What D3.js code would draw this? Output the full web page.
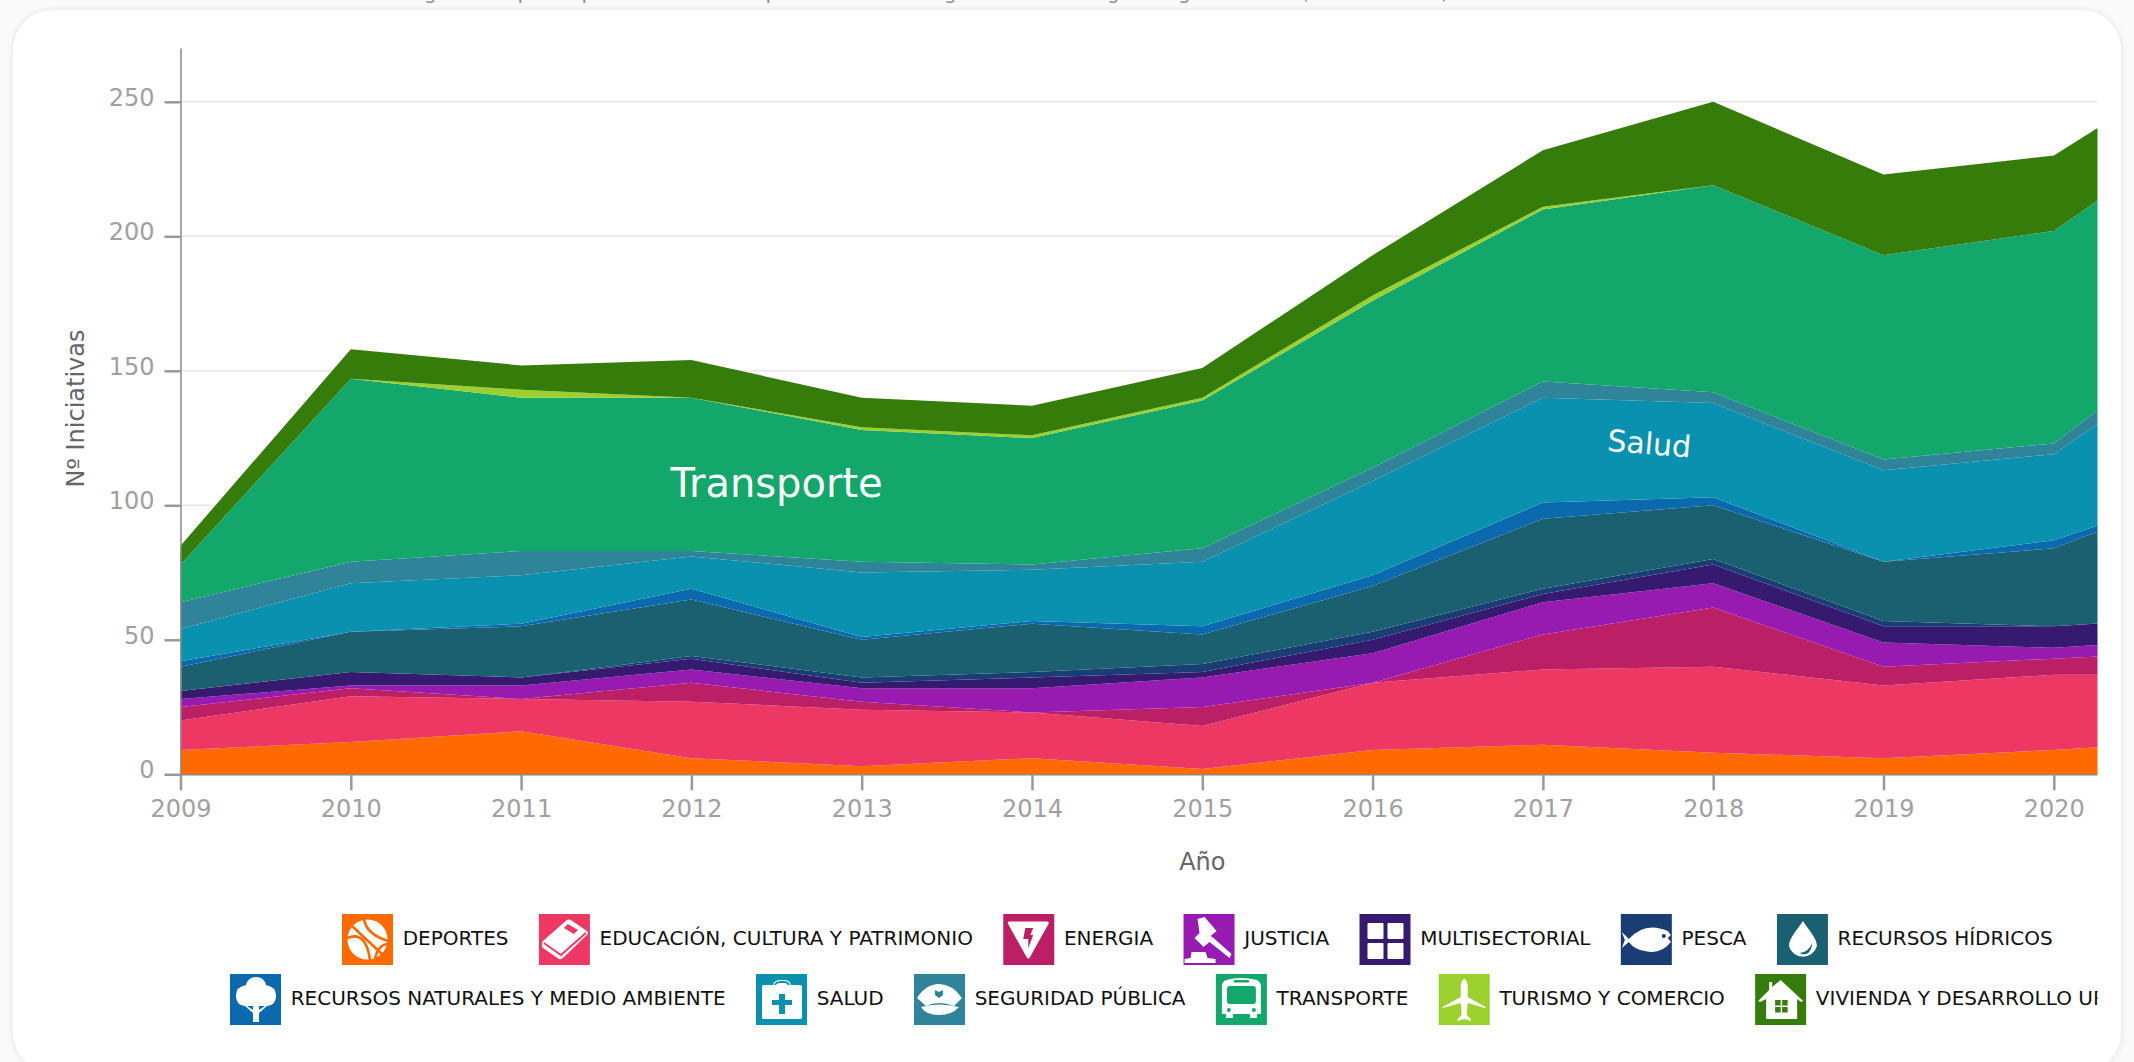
<!DOCTYPE html>
<html>
<head>
<meta charset="utf-8">
<script src="https://cdn.jsdelivr.net/npm/d3@7"></script>
<style>
  html, body { margin: 0; padding: 0; background: #fafafa; overflow: hidden; }
  text { font-family: "DejaVu Sans", sans-serif; }
  .axis text { fill: #a0a0a0; font-size: 24px; }
  .axis .tick line { stroke: #999; stroke-width: 2.5px; }
  .axis path { stroke: #888; stroke-width: 1.5px; }
  .axis-label { fill: #666; font-size: 24px; }
</style>
</head>
<body>
<div id="chart"></div>
<script>
var width = 2134;
var height = 1062;

var years = [2009, 2010, 2011, 2012, 2013, 2014, 2015, 2016, 2017, 2018, 2019, 2020, 2021];
var xTicks = [2009, 2010, 2011, 2012, 2013, 2014, 2015, 2016, 2017, 2018, 2019, 2020];
var yTicks = [0, 50, 100, 150, 200, 250];

var deportes = [9, 12, 16, 6, 3, 6, 2, 9, 11, 8, 6, 9, 13];
var educacion = [11, 17, 12, 21, 21, 17, 16, 25, 28, 32, 27, 28, 24];
var energia = [5, 3, 0, 7, 3, 0, 7, 0, 13, 22, 7, 6, 9];
var justicia = [3, 1, 5, 5, 5, 9, 11, 11, 12, 9, 9, 4, 5];
var multisectorial = [3, 5, 3, 4, 2, 4, 2, 5, 3, 7, 6, 8, 8];
var pesca = [0, 0, 0, 1, 2, 2, 3, 3, 2, 2, 2, 0, 0];
var hidricos = [9, 15, 19, 21, 14, 18, 11, 17, 26, 20, 22, 29, 49];
var naturales = [2, 0, 1, 4, 1, 1, 3, 4, 6, 3, 0, 3, 0];
var salud = [12, 18, 18, 12, 24, 19, 24, 35, 39, 35, 34, 32, 55];
var seguridad = [10, 8, 9, 2, 4, 2, 5, 5, 6, 4, 4, 4, 8];
var transporte = [14, 68, 57, 57, 49, 47, 55, 62, 64, 77, 76, 79, 75];
var turismo = [0, 0, 3, 0, 1, 1, 1, 2, 1, 0, 0, 0, 0];
var vivienda = [7, 11, 9, 14, 11, 11, 11, 15, 21, 31, 30, 28, 24];

var seriesValues = [deportes, educacion, energia, justicia, multisectorial, pesca, hidricos,
                    naturales, salud, seguridad, transporte, turismo, vivienda];
var seriesKeys = ["deportes", "educacion", "energia", "justicia", "multisectorial", "pesca", "hidricos",
                  "naturales", "salud", "seguridad", "transporte", "turismo", "vivienda"];
var seriesNames = ["DEPORTES", "EDUCACIÓN, CULTURA Y PATRIMONIO", "ENERGIA", "JUSTICIA", "MULTISECTORIAL",
                   "PESCA", "RECURSOS HÍDRICOS", "RECURSOS NATURALES Y MEDIO AMBIENTE", "SALUD",
                   "SEGURIDAD PÚBLICA", "TRANSPORTE", "TURISMO Y COMERCIO", "VIVIENDA Y DESARROLLO URBANO"];
var seriesColors = ["#ff6a00", "#ec3862", "#bb2067", "#971bb1", "#351a70", "#1a3d74", "#1b6071",
                    "#0b69ae", "#0a91b0", "#2f8499", "#14a76c", "#9bd02f", "#367c0a"];

var rows = d3.range(years.length).map(function(i) {
  var row = { year: years[i] };
  seriesKeys.forEach(function(k, s) { row[k] = seriesValues[s][i]; });
  return row;
});
var stacked = d3.stack().keys(seriesKeys)(rows);

var margin = { left: 180.5, top: 48, bottom: 774.3, right: 2097.5 };
var x = d3.scaleLinear().domain([2009, 2021]).range([margin.left, margin.left + 170.3 * 12]);
var y = d3.scaleLinear().domain([0, 270]).range([margin.bottom, margin.top]);

var svg = d3.select("#chart").append("svg")
  .attr("width", width)
  .attr("height", height)
  .style("display", "block");

var defs = svg.append("defs");
defs.append("clipPath").attr("id", "clip").append("rect")
  .attr("x", 0).attr("y", 0).attr("width", margin.right).attr("height", height);
var blur = defs.append("filter").attr("id", "shadow")
  .attr("x", "-2%").attr("y", "-2%").attr("width", "104%").attr("height", "104%");
blur.append("feDropShadow").attr("dx", 0).attr("dy", 0).attr("stdDeviation", 3)
  .attr("flood-color", "#000").attr("flood-opacity", 0.1);

// what is left of the subtitle, cut off by the top of the window
svg.append("g").attr("class", "subtitle").selectAll("text")
  .data([["g", 424], ["p", 517.4], ["p", 581.4], ["p", 765.4], ["g", 944], ["g", 1107], ["g", 1178], ["(", 1301], [")", 1441]])
  .enter().append("text")
  .attr("x", function(d) { return d[1]; })
  .attr("y", -1)
  .attr("fill", "#8193ab")
  .style("font-size", "20px")
  .text(function(d) { return d[0]; });

svg.append("rect")
  .attr("x", 13).attr("y", 10)
  .attr("width", 2108).attr("height", 1062)
  .attr("rx", 40).attr("ry", 40)
  .attr("fill", "#fff")
  .attr("filter", "url(#shadow)");

var plot = svg.append("g").attr("clip-path", "url(#clip)");

plot.append("g").selectAll("line")
  .data(yTicks.filter(function(d) { return d > 0; }))
  .enter().append("line")
  .attr("x1", margin.left).attr("x2", margin.right)
  .attr("y1", function(d) { return y(d); })
  .attr("y2", function(d) { return y(d); })
  .attr("stroke", "#e6e6e6")
  .attr("stroke-width", 1.5);

var area = d3.area()
  .x(function(d) { return x(d.data.year); })
  .y0(function(d) { return y(d[0]); })
  .y1(function(d) { return y(d[1]); });

plot.append("g").selectAll("path")
  .data(stacked)
  .enter().append("path")
  .attr("d", area)
  .attr("fill", function(d, i) { return seriesColors[i]; });

plot.append("g")
  .attr("class", "axis")
  .attr("transform", "translate(0," + margin.bottom + ")")
  .call(d3.axisBottom(x).tickValues(xTicks).tickFormat(d3.format("d")).tickSize(16).tickPadding(10).tickSizeOuter(0));

var yAxis = svg.append("g")
  .attr("class", "axis")
  .attr("transform", "translate(" + margin.left + ",0)")
  .call(d3.axisLeft(y).tickValues(yTicks).tickSize(16).tickPadding(10).tickSizeOuter(0));
yAxis.selectAll("text").attr("dy", "0.15em");

svg.append("text")
  .attr("class", "axis-label")
  .attr("x", x(2015))
  .attr("y", 870)
  .attr("text-anchor", "middle")
  .text("Año");

svg.append("text")
  .attr("class", "axis-label")
  .attr("transform", "translate(84," + y(136) + ") rotate(-90)")
  .attr("text-anchor", "middle")
  .text("Nº Iniciativas");

svg.append("text")
  .attr("x", x(2012.5))
  .attr("y", y(103))
  .attr("text-anchor", "middle")
  .attr("fill", "#fff")
  .style("font-size", "40px")
  .text("Transporte");

svg.append("text")
  .attr("transform", "translate(" + x(2017.62) + "," + y(119) + ") rotate(4.7)")
  .attr("text-anchor", "middle")
  .attr("fill", "#fff")
  .style("font-size", "30px")
  .text("Salud");

// legend icons, all drawn in a 51x51 box
var icons = {
  deportes: function(g, c) {
    g.append("circle").attr("cx", 25.5).attr("cy", 25.5).attr("r", 20).attr("fill", "#fff");
    g.append("path").attr("fill", "none").attr("stroke", c).attr("stroke-width", 2.6)
      .attr("d", "M10 12 L41 41 M22 5 Q24 20 46 27 M5 24 Q24 16 28 46 M47 30 Q36 30 33 45");
  },
  educacion: function(g, c) {
    g.append("path").attr("fill", "#fff").attr("d", "M28 6 Q30 5 32 6 L48 17 Q50 19 48 21 L24 44 Q22 46 20 45 L4 34 Q2 31 4 27 Z");
    g.append("path").attr("fill", "none").attr("stroke", c).attr("stroke-width", 1.8).attr("d", "M5 29 L22 41 L47 19");
    g.append("path").attr("fill", c).attr("d", "M25 14 L29 10 L39 16 L35 20 Z");
  },
  energia: function(g, c) {
    g.append("path").attr("fill", "#fff").attr("stroke", "#fff").attr("stroke-width", 3).attr("stroke-linejoin", "round").attr("d", "M6 9 L44 9 L25 43 Z");
    g.append("path").attr("fill", c).attr("d", "M22 14 L30 14 L27 21 L30 21 L25 34 L25 25 L20 25 Z");
  },
  justicia: function(g, c) {
    g.append("path").attr("fill", "#fff").attr("d", "M14 5 L21 3 L33 17 L27 22 L30 24 L48 40 L46 44 L26 28 L20 33 L11 24 L16 19 Z");
    g.append("path").attr("fill", "#fff").attr("d", "M8 38 L22 38 L24 44 L32 45 L32 49 L1 49 L1 45 L7 44 Z");
  },
  multisectorial: function(g, c) {
    [[8, 9], [28, 9], [8, 29], [28, 29]].forEach(function(p) {
      g.append("rect").attr("x", p[0]).attr("y", p[1]).attr("width", 16).attr("height", 16).attr("rx", 1).attr("fill", "#fff");
    });
  },
  pesca: function(g, c) {
    g.append("path").attr("fill", "#fff").attr("d", "M1 18 L8 25 Q24 7 47 17 L50 21 L47 24 L50 28 Q40 41 24 37 Q14 36 8 28 L1 34 L4 26 Z");
    g.append("circle").attr("cx", 43).attr("cy", 22).attr("r", 2).attr("fill", c);
  },
  hidricos: function(g, c) {
    g.append("path").attr("fill", "#fff").attr("d", "M26 7 C31 15 40 24 40 32 A14.5 14.5 0 0 1 12 32 C12 24 21 15 26 7 Z");
    g.append("path").attr("fill", c).attr("d", "M23 39 Q32 38 35 29 Q35 38 29 40 Q25 41 23 39 Z");
  },
  naturales: function(g, c) {
    g.append("path").attr("fill", "#fff").attr("d", "M26 3 Q34 3 36 11 Q46 13 46 21 Q46 32 36 32 L29 32 L29 36 L35 32 L37 32 L29 39 L29 48 L23 48 L23 39 L15 32 L17 32 L23 36 L23 32 L16 32 Q6 32 6 21 Q6 13 16 11 Q18 3 26 3 Z");
  },
  salud: function(g, c) {
    g.append("path").attr("fill", "#fff").attr("d", "M8 11 L17 11 Q18 6 25 6 L28 6 Q34 6 35 11 L44 11 Q46 11 46 13 L46 44 Q46 45 44 45 L8 45 Q6 45 6 44 L6 13 Q6 11 8 11 Z");
    g.append("path").attr("fill", "none").attr("stroke", c).attr("stroke-width", 1.8).attr("d", "M19 11 Q20 8 25 8 L28 8 Q32 8 33 11");
    g.append("path").attr("fill", c).attr("d", "M23 20 L29 20 L29 26 L36 26 L36 31 L29 31 L29 40 L23 40 L23 31 L16 31 L16 26 L23 26 Z");
  },
  seguridad: function(g, c) {
    g.append("path").attr("fill", "#fff").attr("d", "M25 10 Q38 10 48 24 L40 32 Q25 26 12 32 L3 24 Q12 10 25 10 Z");
    g.append("path").attr("fill", "#fff").attr("d", "M7 33 Q25 28 45 33 Q38 41 25 41 Q12 41 7 33 Z");
    g.append("path").attr("fill", c).attr("d", "M21 16 L25 18 L29 16 L29 21 L25 24 L21 21 Z");
  },
  transporte: function(g, c) {
    g.append("path").attr("fill", "#fff").attr("d", "M10 6 Q25 2 41 6 Q45 8 45 12 L45 40 L41 40 L41 44 L34 44 L34 40 L17 40 L17 44 L10 44 L10 40 L6 40 L6 12 Q6 8 10 6 Z");
    g.append("rect").attr("x", 11).attr("y", 12).attr("width", 29).attr("height", 18).attr("rx", 3).attr("fill", c);
    g.append("rect").attr("x", 18).attr("y", 6).attr("width", 15).attr("height", 2.5).attr("fill", c);
    g.append("circle").attr("cx", 13).attr("cy", 36).attr("r", 2).attr("fill", c);
    g.append("circle").attr("cx", 38).attr("cy", 36).attr("r", 2).attr("fill", c);
  },
  turismo: function(g, c) {
    g.append("path").attr("fill", "#fff").attr("d", "M25.5 5 Q28 5 29 12 L29 23 L47 33 L46 34 L29 29 L28 41 L32 45 L32 47 L25.5 45 L19 47 L19 45 L23 41 L22 29 L4 34 L4 33 L22 23 L22 12 Q23 5 25.5 5 Z");
  },
  vivienda: function(g, c) {
    g.append("path").attr("fill", "#fff").attr("d", "M25.5 6 L48 27 L46 28 L42 25 L42 45 L11 45 L11 25 L5 28 L3 27 L14 16 L14 8 L17 8 L17 13 Z");
    [[20, 26], [27, 26], [20, 33], [27, 33]].forEach(function(p) {
      g.append("rect").attr("x", p[0]).attr("y", p[1]).attr("width", 5.5).attr("height", 5.5).attr("fill", c);
    });
  }
};

var legendRows = [d3.range(0, 7), d3.range(7, 13)];
var rowStart = [342, 230];
var rowTop = [914, 974];
var legend = svg.append("g").attr("clip-path", "url(#clip)");

legendRows.forEach(function(row, r) {
  var cursor = rowStart[r];
  row.forEach(function(s) {
    var item = legend.append("g").attr("transform", "translate(" + cursor + "," + rowTop[r] + ")");
    item.append("rect").attr("width", 51).attr("height", 51).attr("fill", seriesColors[s]);
    icons[seriesKeys[s]](item, seriesColors[s]);
    var label = item.append("text")
      .attr("x", 60.7)
      .attr("y", 31)
      .attr("fill", "#111")
      .style("font-size", "20px")
      .text(seriesNames[s]);
    cursor += 60.7 + label.node().getComputedTextLength() + 30.35;
  });
});
</script>
</body>
</html>
